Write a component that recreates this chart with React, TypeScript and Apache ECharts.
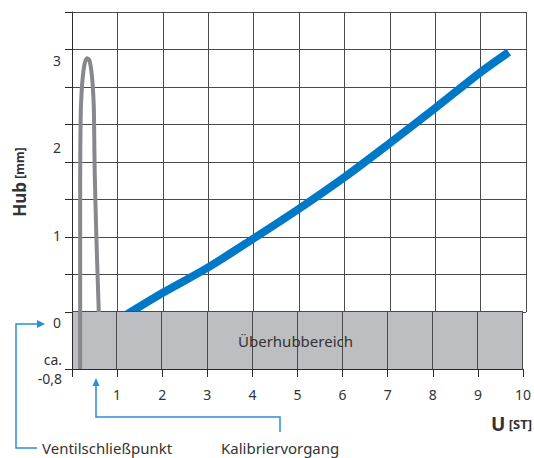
import React, { useEffect, useRef } from 'react';
import * as echarts from 'echarts';

// ---- data ----
const xMin = 0;
const xMax = 10;
const xStep = 1;
const yMax = 24 / 7; // top of the grid in mm (8 grid cells of 3/7 mm)
const yStep = 3 / 7;
const yLabelValues = [0, 1, 2, 3];
const bandRange = [0, 10, -0.65, 0]; // x from, x to, y from, y to
const bandTickLabel = 'ca.\n-0,8';
const bandLabel = 'Überhubbereich';

// Kalibriervorgang (blue) – Hub [mm] over U [ST]
const blueCurve = [
  [1.2, -0.03], [2, 0.22], [3, 0.51], [4, 0.84], [5, 1.18], [6, 1.54],
  [7, 1.93], [8, 2.33], [9, 2.74], [9.62, 2.97],
];
// Ventilschließpunkt (gray loop)
const grayCurve = [
  [0.18, 0], [0.18, 1.5], [0.19, 2.2], [0.21, 2.5], [0.24, 2.7], [0.28, 2.84],
  [0.33, 2.9], [0.38, 2.88], [0.42, 2.78], [0.455, 2.6], [0.48, 2.35],
  [0.49, 2.0], [0.5, 1.6], [0.54, 0.8], [0.59, 0],
];
const grayStem = [[0.18, -0.65], [0.18, 0]];

const yTitle = ['Hub', '[mm]'];
const xTitle = ['U', '[ST]'];
const noteValve = 'Ventilschließpunkt';
const noteCalib = 'Kalibriervorgang';

// ---- styles ----
const FONT = 'Noto Sans';
const TXT = '#333333';
const GRID = '#4a4a4a';
const AXIS = '#2a2a2a';
const BAND = '#bdbec1';
const BLUE = '#0078c8';
const GRAY = '#87888b';
const ARROW = '#2a8fd6';

function crisp(p: number) {
  const d = Math.round(p * 2);
  return (d + 1) % 2 === 0 ? d / 2 : (d - 1) / 2;
}

export default function App() {
  const ref = useRef<HTMLDivElement>(null);
  useEffect(() => {
    if (!ref.current) return;
    const chart = echarts.init(ref.current, undefined, { renderer: 'svg' });
    const xGridValues: number[] = [];
    for (let v = xMin + xStep; v <= xMax + 1e-9; v += xStep) xGridValues.push(v);

    chart.setOption({
      animation: false,
      textStyle: { fontFamily: FONT },
      grid: [
        { left: 72, top: 12, width: 454, height: 300 },
        { left: 72, top: 312, width: 454, height: 57 },
      ],
      xAxis: [
        {
          gridIndex: 0, type: 'value', min: xMin, max: xMax, interval: xStep,
          axisLine: { show: false }, axisTick: { show: false }, axisLabel: { show: false },
          splitLine: { show: true, lineStyle: { color: GRID, width: 1 } },
        },
        {
          gridIndex: 1, type: 'value', min: xMin, max: xMax, interval: xStep,
          axisLine: { show: true, onZero: false, lineStyle: { color: AXIS, width: 1 } },
          axisTick: { show: true, inside: false, length: 8, lineStyle: { color: AXIS } },
          axisLabel: {
            formatter: (v: number) => (v === 0 ? '' : String(v)),
            color: TXT, fontSize: 14, margin: 18, fontFamily: FONT,
          },
          splitLine: { show: false },
        },
      ],
      yAxis: [
        {
          gridIndex: 0, type: 'value', min: 0, max: yMax, interval: yStep,
          axisLine: { show: true, onZero: false, lineStyle: { color: AXIS, width: 1 } },
          axisTick: { show: true, inside: false, length: 7, lineStyle: { color: AXIS } },
          axisLabel: {
            customValues: yLabelValues,
            formatter: (v: number) => '\n' + String(Math.round(v)),
            color: TXT, fontSize: 14, fontFamily: FONT, margin: 11, lineHeight: 21,
          },
          splitLine: { show: true, lineStyle: { color: GRID, width: 1 } },
        },
        {
          gridIndex: 1, type: 'value', min: bandRange[2], max: bandRange[3], interval: bandRange[3] - bandRange[2],
          axisLine: { show: true, onZero: false, lineStyle: { color: AXIS, width: 1 } },
          axisTick: { show: true, inside: false, length: 7, lineStyle: { color: AXIS } },
          axisLabel: {
            customValues: [bandRange[2]],
            formatter: () => bandTickLabel,
            color: TXT, fontSize: 14, fontFamily: FONT, margin: 10, lineHeight: 19,
          },
          splitLine: { show: false },
        },
      ],
      series: [
        {
          type: 'line', xAxisIndex: 0, yAxisIndex: 0, z: 2, data: blueCurve,
          showSymbol: false, symbol: 'none', smooth: 0.3, silent: true,
          lineStyle: { color: BLUE, width: 8, cap: 'butt' },
        },
        {
          type: 'custom', xAxisIndex: 1, yAxisIndex: 1, z: 3, silent: true,
          data: [bandRange],
          renderItem: (_params: any, api: any) => {
            const x0 = api.value(0), x1 = api.value(1), y0 = api.value(2), y1 = api.value(3);
            const tl = api.coord([x0, y1]);
            const br = api.coord([x1, y0]);
            const children: any[] = [
              {
                type: 'rect',
                shape: { x: tl[0] + 1, y: tl[1], width: br[0] - tl[0] - 1, height: br[1] - tl[1] },
                style: { fill: BAND },
              },
              {
                type: 'line',
                shape: { x1: tl[0], y1: crisp(tl[1]), x2: br[0], y2: crisp(tl[1]) },
                style: { stroke: GRID, lineWidth: 1 },
              },
            ];
            xGridValues.forEach((v) => {
              const p = api.coord([v, y1]);
              const q = api.coord([v, y0]);
              children.push({
                type: 'line',
                shape: { x1: crisp(p[0]), y1: p[1], x2: crisp(q[0]), y2: q[1] },
                style: { stroke: GRID, lineWidth: 1 },
              });
            });
            children.push({
              type: 'text',
              x: (tl[0] + br[0]) / 2 - 2,
              y: (tl[1] + br[1]) / 2,
              style: {
                text: bandLabel, fill: TXT, fontSize: 15, fontFamily: FONT,
                align: 'center', verticalAlign: 'middle',
              },
            });
            return { type: 'group', children };
          },
        },
        {
          type: 'line', xAxisIndex: 0, yAxisIndex: 0, z: 4, data: grayCurve,
          showSymbol: false, symbol: 'none', smooth: 0.25, silent: true,
          lineStyle: { color: GRAY, width: 4 },
        },
        {
          type: 'line', xAxisIndex: 1, yAxisIndex: 1, z: 4, data: grayStem,
          showSymbol: false, symbol: 'none', silent: true,
          lineStyle: { color: GRAY, width: 4 },
        },
      ],
      graphic: [
        {
          type: 'text', x: 19, y: 182, rotation: Math.PI / 2,
          style: {
            text: `{a|${yTitle[0]}} {b|${yTitle[1]}}`,
            align: 'center', verticalAlign: 'middle',
            rich: {
              a: { fontSize: 17, fontWeight: 'bold', fill: TXT, fontFamily: FONT },
              b: { fontSize: 12, fontWeight: 'bold', fill: TXT, fontFamily: FONT },
            },
          },
        },
        {
          type: 'text', x: 532, y: 424,
          style: {
            text: `{a|${xTitle[0]}} {b|${xTitle[1]}}`,
            align: 'right', verticalAlign: 'middle',
            rich: {
              a: { fontSize: 19, fontWeight: 'bold', fill: TXT, fontFamily: FONT },
              b: { fontSize: 13, fontWeight: 'bold', fill: TXT, fontFamily: FONT },
            },
          },
        },
        {
          type: 'polyline',
          shape: { points: [[37, 448], [16, 448], [16, 324], [38, 324]] },
          style: { stroke: ARROW, lineWidth: 1.5, fill: 'none' },
        },
        {
          type: 'polygon',
          shape: { points: [[37, 320], [45, 324], [37, 328]] },
          style: { fill: ARROW },
        },
        {
          type: 'polyline',
          shape: { points: [[280, 432], [280, 417], [96, 417], [96, 386]] },
          style: { stroke: ARROW, lineWidth: 1.5, fill: 'none' },
        },
        {
          type: 'polygon',
          shape: { points: [[92.5, 386], [96, 378], [99.5, 386]] },
          style: { fill: ARROW },
        },
        {
          type: 'text', x: 42, y: 448,
          style: { text: noteValve, fill: TXT, fontSize: 15, fontFamily: FONT, align: 'left', verticalAlign: 'middle' },
        },
        {
          type: 'text', x: 221, y: 448,
          style: { text: noteCalib, fill: TXT, fontSize: 15, fontFamily: FONT, align: 'left', verticalAlign: 'middle' },
        },
      ],
    });
    return () => chart.dispose();
  }, []);
  return (
    <div
      ref={ref}
      style={{ position: 'fixed', left: 0, top: 0, width: 534, height: 458, background: '#fff' }}
    />
  );
}
